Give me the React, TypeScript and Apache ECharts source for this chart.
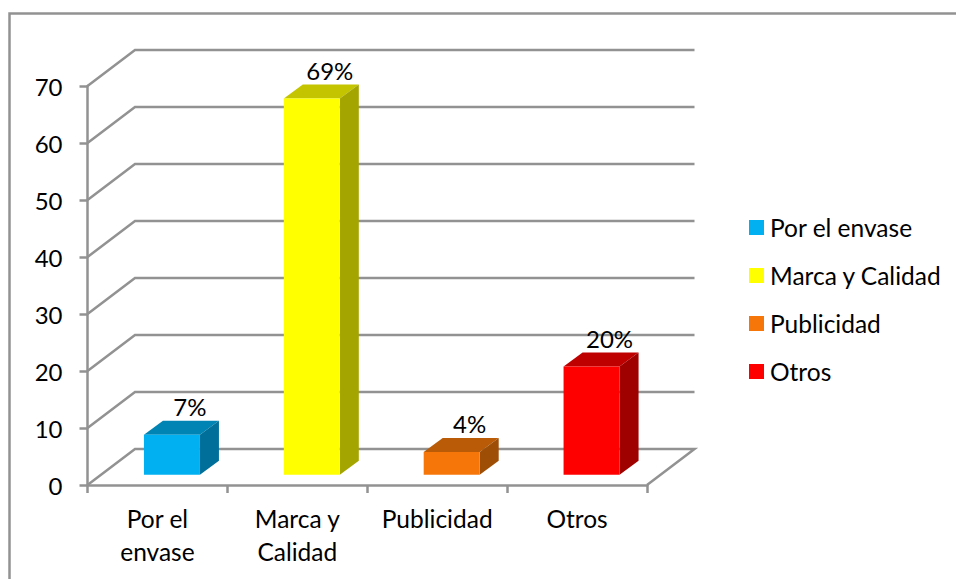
import React, { useEffect, useRef } from "react";
import * as echarts from "echarts";

const categories = ["Por el\nenvase", "Marca y\nCalidad", "Publicidad", "Otros"];
const legendNames = ["Por el envase", "Marca y Calidad", "Publicidad", "Otros"];
const barValues = [7, 66, 4, 19];
const barLabels = ["7%", "69%", "4%", "20%"];
const yTicks = [0, 10, 20, 30, 40, 50, 60, 70];
const frontColors = ["#00b0f0", "#ffff00", "#f7760a", "#ff0000"];
const topColors = ["#0084b4", "#c4c400", "#ba5c07", "#bf0000"];
const sideColors = ["#006f9a", "#a5a500", "#9f4e05", "#9f0000"];

const FONT = "Lato";
const FONT_SIZE = 24.5;
const NUM_SIZE = 24;
const GRID_COLOR = "#929292";
const LINE_W = 2.5;
const DEPTH_X = 47.5;
const DEPTH_Y = 36;

export default function App() {
  const ref = useRef<HTMLDivElement>(null);
  useEffect(() => {
    document.body.style.margin = "0";
    const chart = echarts.init(ref.current!, undefined, { renderer: "svg" });

    const wallSeries = {
      type: "custom",
      silent: true,
      z: 1,
      data: yTicks.map((v) => [0, v]),
      encode: { x: 0, y: 1 },
      renderItem: (params: any, api: any) => {
        const cs = params.coordSys;
        const y = api.coord([0, api.value(1)])[1];
        const x0 = cs.x;
        const x1 = cs.x + cs.width;
        const pts = [
          [x0, y],
          [x0 + DEPTH_X, y - DEPTH_Y],
          [x1 + DEPTH_X, y - DEPTH_Y],
        ];
        if (api.value(1) === 0) pts.push([x1, y]);
        return {
          type: "polyline",
          shape: { points: pts },
          style: { stroke: GRID_COLOR, lineWidth: LINE_W, fill: "none" },
        };
      },
    };

    const barSeries = legendNames.map((name, i) => ({
      type: "custom",
      name,
      z: 3,
      itemStyle: { color: frontColors[i] },
      data: [[i, barValues[i]]],
      encode: { x: 0, y: 1 },
      renderItem: (_p: any, api: any) => {
        const [cx, topY] = api.coord([api.value(0), api.value(1)]);
        const [, baseY] = api.coord([api.value(0), 0]);
        const w = 56;
        const l = cx + 14.5 - w / 2;
        const r = l + w;
        const dy = -10.3;
        const t = topY + dy;
        const b = baseY + dy;
        const ox = 19;
        const oy = 14;
        return {
          type: "group",
          children: [
            {
              type: "polygon",
              shape: { points: [[l, t], [r, t], [r + ox, t - oy], [l + ox, t - oy]] },
              style: { fill: topColors[i] },
            },
            {
              type: "polygon",
              shape: { points: [[r, t], [r + ox, t - oy], [r + ox, b - oy], [r, b]] },
              style: { fill: sideColors[i] },
            },
            { type: "rect", shape: { x: l, y: t, width: w, height: b - t }, style: { fill: frontColors[i] } },
            {
              type: "text",
              style: {
                x: r - 10,
                y: t - 28,
                text: barLabels[i],
                fill: "#000",
                font: `${NUM_SIZE}px ${FONT}`,
                align: "center",
                verticalAlign: "middle",
              },
            },
          ],
        };
      },
    }));

    chart.setOption({
      animation: false,
      backgroundColor: "#fff",
      textStyle: { fontFamily: FONT },
      graphic: [
        {
          type: "rect",
          z: -1,
          shape: { x: 9.5, y: 13.5, width: 1000, height: 600 },
          style: { fill: "none", stroke: GRID_COLOR, lineWidth: LINE_W },
        },
      ],
      grid: { left: 87.5, top: 86, width: 559.5, height: 399 },
      xAxis: {
        type: "category",
        data: categories,
        axisLine: { show: true, lineStyle: { color: GRID_COLOR, width: LINE_W } },
        axisTick: { show: true, alignWithLabel: false, length: 8, lineStyle: { color: GRID_COLOR, width: LINE_W } },
        axisLabel: { color: "#000", fontSize: FONT_SIZE, fontFamily: FONT, lineHeight: 33, margin: 17, interval: 0 },
      },
      yAxis: {
        type: "value",
        min: 0,
        max: 70,
        interval: 10,
        splitLine: { show: false },
        axisLine: { show: true, lineStyle: { color: GRID_COLOR, width: LINE_W } },
        axisTick: { show: true, length: 8, lineStyle: { color: GRID_COLOR, width: LINE_W } },
        axisLabel: { color: "#000", fontSize: NUM_SIZE, fontFamily: FONT, margin: 25 },
      },
      legend: {
        orient: "vertical",
        left: 744,
        top: 210,
        icon: "rect",
        itemWidth: 15,
        itemHeight: 15,
        itemGap: 23,
        data: legendNames,
        textStyle: { color: "#000", fontSize: FONT_SIZE, fontFamily: FONT, padding: [0, 0, 0, 1] },
      },
      series: [wallSeries, ...barSeries],
    });
    return () => chart.dispose();
  }, []);
  return <div ref={ref} style={{ width: 956, height: 579 }} />;
}
